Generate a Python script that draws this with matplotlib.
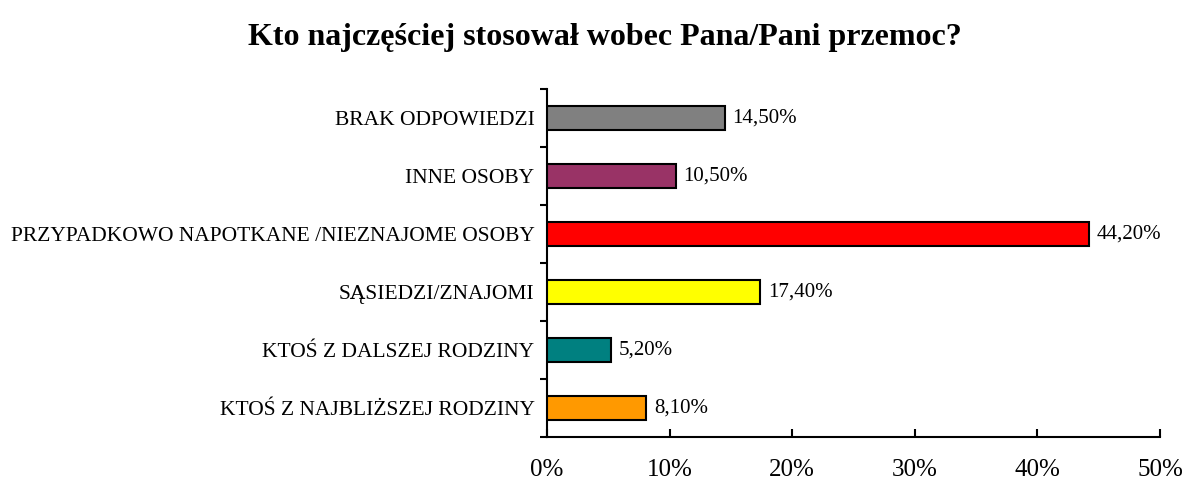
import matplotlib
matplotlib.use("Agg")
import matplotlib.pyplot as plt
from matplotlib.ticker import FixedLocator, NullFormatter

categories = ["KTOŚ Z NAJBLIŻSZEJ RODZINY", "KTOŚ Z DALSZEJ RODZINY", "SĄSIEDZI/ZNAJOMI",
              "PRZYPADKOWO NAPOTKANE /NIEZNAJOME OSOBY", "INNE OSOBY", "BRAK ODPOWIEDZI"]
values = [8.1, 5.2, 17.4, 44.2, 10.5, 14.5]
value_labels = ["8,10%", "5,20%", "17,40%", "44,20%", "10,50%", "14,50%"]
colors = ["#FF9900", "#008080", "#FFFF00", "#FF0000", "#993366", "#808080"]
x_ticks = [0, 10, 20, 30, 40, 50]
x_tick_labels = ["0%", "10%", "20%", "30%", "40%", "50%"]
title = "Kto najczęściej stosował wobec Pana/Pani przemoc?"

plt.rcParams['font.family'] = ['Liberation Serif', 'DejaVu Serif']

fig = plt.figure(figsize=(11.85, 4.87), dpi=100)
ax = fig.add_axes([547/1185, 1-437/487, (1160-547)/1185, (437-89)/487])

ypos = list(range(len(categories)))
ax.barh(ypos, values, height=0.41, color=colors, edgecolor="black", linewidth=1.5, zorder=3)
for y, v, lab in zip(ypos, values, value_labels):
    ax.annotate(lab, (v, y), xytext=(5.5, 0), textcoords="offset points",
                va="center", ha="left", fontsize=15)

ax.set_xlim(0, 50)
ax.set_ylim(-0.5, len(categories) - 0.5)
ax.set_xticks(x_ticks)
ax.set_xticklabels(x_tick_labels, fontsize=18)
ax.set_yticks(ypos)
ax.set_yticklabels(categories, fontsize=15.5)
ax.tick_params(axis="y", which="major", length=0, pad=9)
ax.yaxis.set_minor_locator(FixedLocator([i - 0.5 for i in range(len(categories) + 1)]))
ax.yaxis.set_minor_formatter(NullFormatter())
ax.tick_params(axis="y", which="minor", length=5, width=1.5, direction="out")
ax.tick_params(axis="x", which="major", length=6, width=1.5, direction="in", pad=16)
ax.xaxis.set_ticks_position("bottom")

for s in ["top", "right"]:
    ax.spines[s].set_visible(False)
for s in ["left", "bottom"]:
    ax.spines[s].set_linewidth(1.5)

fig.text(605/1185, 1-38/487, title, ha="center", va="center", fontsize=23, fontweight="bold")

fig.savefig("out.png", dpi=100)
